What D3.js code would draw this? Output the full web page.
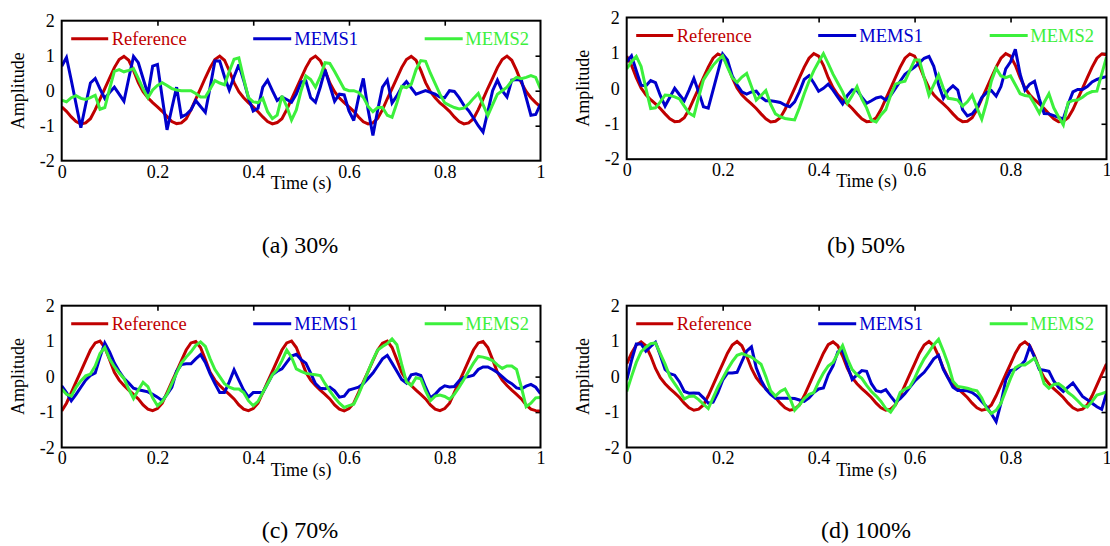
<!DOCTYPE html>
<html><head><meta charset="utf-8">
<script src="https://cdn.jsdelivr.net/npm/d3@7"></script>
<style>html,body{margin:0;padding:0;background:#fff;} svg{display:block;}</style>
</head><body>
<svg id="chart" width="1110" height="546"></svg>
<script>
// ---------------- data ----------------
const timeStep = 0.01;               // samples every 10 ms, 0 .. 1 s
const xTickValues = [0, 0.2, 0.4, 0.6, 0.8, 1];
const yTickValues = [-2, -1, 0, 1, 2];
const seriesNames = ["Reference", "MEMS1", "MEMS2"];
const panelCaptions = ["(a) 30%", "(b) 50%", "(c) 70%", "(d) 100%"];
const xAxisTitle = "Time (s)";
const yAxisTitle = "Amplitude";

// (a) 30%
const refA = [
-0.46,-0.59,-0.75,-0.88,-0.95,-0.92,-0.8,-0.54,-0.24,0.06,0.36,0.66,0.89,0.98,0.87,0.58,0.23,-0.03,-0.2,-0.34,
-0.46,-0.59,-0.74,-0.88,-0.94,-0.92,-0.8,-0.55,-0.24,0.06,0.37,0.66,0.89,0.99,0.87,0.57,0.23,-0.03,-0.2,-0.34,
-0.46,-0.6,-0.75,-0.88,-0.95,-0.91,-0.8,-0.54,-0.24,0.06,0.36,0.66,0.9,0.99,0.86,0.58,0.22,-0.03,-0.21,-0.34,
-0.46,-0.59,-0.75,-0.89,-0.95,-0.92,-0.79,-0.54,-0.23,0.06,0.36,0.66,0.89,0.98,0.87,0.58,0.23,-0.03,-0.2,-0.35,
-0.46,-0.59,-0.75,-0.88,-0.95,-0.92,-0.8,-0.54,-0.24,0.07,0.36,0.66,0.89,0.99,0.87,0.58,0.23,-0.02,-0.2,-0.34,
-0.46];
const mems1A = [
0.7,0.95,0.3,-0.38,-1.06,-0.4,0.22,0.35,0.05,-0.22,
-0.05,0.1,-0.1,-0.3,0.35,0.98,0.8,0.35,-0.1,0.7,
0.75,-0.2,-1.12,-0.5,0.1,-0.75,-0.68,-0.55,-0.28,-0.45,
-0.62,0.1,0.85,0.85,0.4,0.02,0.4,0.75,0.3,-0.2,
-0.58,-0.5,0.1,0.3,0.0,-0.28,-0.18,-0.25,-0.33,-0.1,
0.25,0.28,-0.2,-0.33,0.1,0.6,0.15,-0.3,-0.1,-0.12,
-0.58,-0.85,-0.2,0.35,-0.55,-1.28,-0.55,0.1,0.3,-0.35,
-0.15,0.1,0.26,0.08,-0.1,-0.05,0.0,-0.05,-0.1,-0.18,
-0.2,0.0,-0.02,-0.2,-0.42,-0.57,-0.78,-1.0,-1.18,-0.6,
0.0,0.3,0.0,-0.18,0.3,0.32,0.3,-0.2,-0.7,-0.68,
-0.38];
const mems2A = [
-0.27,-0.32,-0.2,-0.14,-0.22,-0.25,-0.2,-0.13,-0.53,-0.48,
0.05,0.55,0.6,0.54,0.58,0.63,0.35,0.05,-0.2,0.02,
0.15,0.23,0.15,0.06,0.02,0.0,0.0,0.0,-0.08,-0.18,
-0.18,0.05,0.29,0.22,0.17,0.55,0.9,0.94,0.35,-0.2,
-0.32,-0.34,-0.22,-0.6,-0.8,-0.7,-0.15,-0.45,-0.84,-0.55,
0.0,0.42,0.32,0.1,0.4,0.8,0.78,0.55,0.3,0.05,
0.0,0.0,-0.05,-0.19,-0.45,-0.6,-0.48,-0.48,-0.7,-0.76,
-0.35,0.12,0.09,0.18,0.6,0.86,0.84,0.5,0.2,-0.1,
-0.35,-0.42,-0.48,-0.52,-0.5,-0.38,-0.22,-0.08,-0.4,-0.71,
-0.4,-0.1,0.0,0.1,0.28,0.38,0.34,0.38,0.43,0.38,
0.05];

// (b) 50%
const refB = [
0.91,0.65,0.3,0.01,-0.18,-0.32,-0.44,-0.57,-0.72,-0.86,-0.94,-0.93,-0.83,-0.6,-0.3,0.0,0.3,0.6,0.85,0.97,
0.91,0.65,0.3,0.01,-0.18,-0.32,-0.44,-0.57,-0.72,-0.86,-0.95,-0.93,-0.83,-0.6,-0.3,0.0,0.3,0.6,0.85,0.98,
0.91,0.65,0.3,0.02,-0.18,-0.32,-0.44,-0.57,-0.72,-0.86,-0.94,-0.93,-0.83,-0.6,-0.3,0.0,0.3,0.6,0.85,0.97,
0.91,0.64,0.3,0.01,-0.18,-0.32,-0.44,-0.57,-0.72,-0.86,-0.94,-0.93,-0.83,-0.6,-0.3,0.0,0.3,0.6,0.85,0.98,
0.91,0.65,0.3,0.01,-0.18,-0.32,-0.44,-0.57,-0.72,-0.86,-0.94,-0.93,-0.83,-0.6,-0.3,0.0,0.3,0.6,0.85,0.97,
0.95];
const mems1B = [
0.75,0.92,0.5,0.09,0.07,0.22,0.16,-0.2,-0.5,-0.25,
0.0,-0.18,-0.35,-0.05,0.28,-0.1,-0.52,-0.56,-0.05,0.46,
0.97,0.8,0.35,0.1,-0.1,-0.16,-0.1,-0.08,-0.25,-0.35,
-0.35,-0.37,-0.4,-0.47,-0.52,-0.38,-0.1,0.25,0.36,0.15,
-0.08,0.0,0.12,-0.05,-0.25,-0.44,-0.2,-0.04,-0.06,-0.25,
-0.42,-0.35,-0.27,-0.24,-0.33,-0.2,0.0,0.2,0.4,0.5,
0.6,0.72,0.85,0.9,0.62,0.1,-0.28,-0.05,0.07,-0.05,
-0.6,-0.78,-0.72,-0.55,-0.26,-0.12,-0.06,-0.22,0.05,0.55,
0.75,1.1,0.4,-0.05,0.12,0.2,-0.3,-0.71,-0.72,-0.77,
-0.82,-0.86,-0.45,-0.1,-0.03,-0.03,0.05,0.18,0.25,0.3,
0.33];
const mems2B = [
0.55,0.75,0.9,0.62,0.0,-0.57,-0.55,-0.38,-0.19,-0.2,
-0.24,-0.3,-0.5,-0.7,-0.78,-0.25,0.24,0.45,0.65,0.8,
0.92,0.6,0.3,0.17,0.32,0.42,0.05,-0.33,-0.2,-0.06,
-0.45,-0.72,-0.8,-0.85,-0.87,-0.89,-0.55,-0.15,0.2,0.5,
0.75,0.98,0.7,0.4,0.15,-0.1,-0.42,-0.2,0.05,-0.3,
-0.55,-0.9,-0.95,-0.75,-0.6,-0.2,0.12,0.17,0.2,0.5,
0.8,0.8,0.3,-0.19,0.1,0.38,0.0,-0.28,-0.3,-0.33,
-0.5,-0.38,-0.19,-0.55,-0.87,-0.4,0.2,0.57,0.35,0.3,
0.35,0.1,-0.15,-0.2,-0.22,-0.45,-0.7,-0.4,-0.15,-0.55,
-0.8,-1.03,-0.4,-0.34,-0.33,-0.25,-0.15,-0.09,-0.08,0.4,
0.88];

// (c) 70%
const refC = [
-0.97,-0.75,-0.45,-0.15,0.15,0.45,0.75,0.95,1.0,0.82,0.48,0.12,-0.1,-0.25,-0.38,-0.5,-0.63,-0.8,-0.92,-0.96,
-0.9,-0.75,-0.45,-0.15,0.15,0.45,0.75,0.95,0.99,0.82,0.48,0.12,-0.1,-0.25,-0.38,-0.5,-0.63,-0.8,-0.92,-0.96,
-0.9,-0.75,-0.45,-0.15,0.15,0.45,0.75,0.95,1.0,0.82,0.48,0.12,-0.1,-0.25,-0.38,-0.5,-0.63,-0.8,-0.92,-0.97,
-0.9,-0.75,-0.45,-0.15,0.15,0.45,0.75,0.94,1.0,0.82,0.48,0.12,-0.1,-0.25,-0.38,-0.5,-0.63,-0.8,-0.92,-0.96,
-0.9,-0.75,-0.45,-0.15,0.15,0.45,0.75,0.95,0.99,0.82,0.48,0.12,-0.1,-0.25,-0.38,-0.5,-0.63,-0.8,-0.92,-0.96,
-0.97];
const mems1C = [
-0.26,-0.45,-0.68,-0.5,-0.3,-0.1,0.03,0.1,0.55,0.95,
0.7,0.38,0.15,-0.05,-0.18,-0.33,-0.37,-0.4,-0.43,-0.5,
-0.58,-0.68,-0.5,-0.3,0.15,0.34,0.36,0.36,0.5,0.62,
0.4,0.08,-0.2,-0.45,-0.45,-0.15,0.19,-0.1,-0.38,-0.58,
-0.45,-0.45,-0.45,-0.2,0.05,0.15,0.22,0.4,0.58,0.63,
0.48,0.38,0.1,-0.2,-0.33,-0.34,-0.3,-0.4,-0.58,-0.55,
-0.38,-0.34,-0.3,-0.2,-0.05,0.1,0.3,0.5,0.6,0.38,
0.15,-0.08,-0.18,0.05,0.08,0.03,-0.3,-0.6,-0.5,-0.35,
-0.26,-0.29,-0.28,-0.12,-0.02,0.0,0.04,0.2,0.27,0.27,
0.2,0.12,0.0,-0.12,-0.2,-0.32,-0.35,-0.27,-0.22,-0.3,
-0.48];
const mems2C = [
-0.35,-0.5,-0.55,-0.3,-0.12,0.02,0.07,0.3,0.65,0.82,
0.5,0.28,0.1,-0.05,-0.35,-0.62,-0.38,-0.16,-0.28,-0.6,
-0.82,-0.7,-0.5,-0.2,0.1,0.38,0.55,0.7,0.88,0.98,
0.85,0.5,0.2,0.0,-0.2,-0.3,-0.35,-0.35,-0.45,-0.68,
-0.82,-0.7,-0.45,-0.2,0.05,0.2,0.45,0.75,0.55,0.22,
0.15,0.09,0.07,0.05,0.03,-0.2,-0.4,-0.59,-0.75,-0.87,
-0.82,-0.78,-0.5,-0.18,0.15,0.47,0.75,0.85,0.93,1.06,
0.9,0.35,-0.15,-0.25,-0.03,-0.06,-0.4,-0.68,-0.55,-0.52,
-0.56,-0.64,-0.5,-0.3,-0.08,0.15,0.38,0.57,0.55,0.51,
0.45,0.33,0.23,0.3,0.3,0.2,-0.3,-0.85,-0.75,-0.6,
-0.59];

// (d) 100%
const refD = [
0.36,0.66,0.89,0.98,0.87,0.58,0.23,-0.03,-0.2,-0.34,-0.46,-0.59,-0.75,-0.88,-0.95,-0.92,-0.8,-0.54,-0.24,0.06,
0.36,0.66,0.89,0.99,0.87,0.58,0.23,-0.03,-0.2,-0.34,-0.46,-0.59,-0.75,-0.88,-0.95,-0.92,-0.8,-0.54,-0.24,0.06,
0.36,0.66,0.9,0.98,0.87,0.58,0.23,-0.03,-0.2,-0.34,-0.46,-0.59,-0.75,-0.88,-0.95,-0.92,-0.8,-0.54,-0.24,0.06,
0.36,0.66,0.89,0.99,0.87,0.58,0.23,-0.03,-0.2,-0.34,-0.46,-0.59,-0.75,-0.88,-0.95,-0.92,-0.8,-0.54,-0.24,0.06,
0.36,0.66,0.89,0.98,0.87,0.58,0.23,-0.03,-0.2,-0.34,-0.46,-0.59,-0.75,-0.88,-0.95,-0.92,-0.8,-0.54,-0.24,0.06,
0.36];
const mems1D = [
-0.1,0.45,0.92,0.92,0.72,0.85,0.97,0.6,0.2,0.08,
0.04,-0.15,-0.42,-0.47,-0.46,-0.47,-0.6,-0.75,-0.72,-0.45,
-0.1,0.1,0.1,0.12,0.42,0.72,0.84,0.25,-0.1,-0.35,
-0.5,-0.61,-0.61,-0.61,-0.61,-0.62,-0.66,-0.7,-0.6,-0.45,
-0.35,-0.32,0.05,0.3,0.7,0.75,0.3,-0.08,0.05,0.17,
0.15,-0.2,-0.4,-0.43,-0.37,-0.55,-0.72,-0.62,-0.48,-0.3,
-0.13,0.0,0.12,0.3,0.5,0.6,0.2,-0.05,-0.3,-0.39,
-0.39,-0.4,-0.45,-0.55,-0.7,-0.85,-1.05,-1.27,-0.75,-0.1,
0.17,0.2,0.3,0.45,0.85,0.55,0.2,0.18,0.15,-0.12,
-0.3,-0.42,-0.3,-0.18,-0.37,-0.56,-0.65,-0.75,-0.85,-0.92,
-0.47];
const mems2D = [
-0.42,0.0,0.4,0.7,0.83,0.93,0.95,0.65,0.35,0.0,
-0.2,-0.4,-0.63,-0.56,-0.55,-0.65,-0.78,-0.9,-0.6,-0.3,
-0.05,0.2,0.42,0.6,0.65,0.6,0.55,0.45,0.35,0.0,
-0.4,-0.55,-0.42,-0.35,-0.6,-0.95,-0.8,-0.62,-0.5,-0.45,
-0.15,0.1,0.3,0.4,0.65,0.88,0.5,0.2,0.05,-0.05,
-0.25,-0.42,-0.55,-0.7,-0.9,-1.0,-0.8,-0.45,-0.35,-0.29,
-0.05,0.25,0.5,0.7,0.9,1.05,0.72,0.35,-0.13,-0.28,
-0.3,-0.33,-0.37,-0.4,-0.6,-0.9,-1.04,-0.95,-0.75,-0.4,
-0.05,0.25,0.33,0.33,0.42,0.52,0.25,-0.2,-0.33,-0.22,
-0.2,-0.3,-0.45,-0.55,-0.68,-0.82,-0.86,-0.7,-0.52,-0.48,
-0.43];

const panelSeries = [
  [refA, mems1A, mems2A],
  [refB, mems1B, mems2B],
  [refC, mems1C, mems2C],
  [refD, mems1D, mems2D]
];

// ---------------- layout & style ----------------
const layout = [
  {left: 61.7, right: 540.5, top: 20.7, bottom: 160.7, capX: 300, capY: 253},
  {left: 626.7, right: 1106.5, top: 17.5, bottom: 159.2, capX: 866, capY: 253},
  {left: 61.7, right: 540.5, top: 305.7, bottom: 447.5, capX: 300, capY: 538},
  {left: 626.7, right: 1106.5, top: 305.7, bottom: 447.5, capX: 866, capY: 538}
];
const colors = ["#c00000", "#0000cc", "#3cf03c"];
const legendPos = [ // offsets from plot left: line start, line end, text start
  [9.5, 46.5, 50], [191.5, 229.5, 232.5], [363, 401, 403.5]
];
const FONT = "'Liberation Serif','Times New Roman',Times,serif";

const svg = d3.select("#chart");

layout.forEach((L, pi) => {
  const x = d3.scaleLinear().domain([0, 1]).range([L.left, L.right]);
  const y = d3.scaleLinear().domain([-2, 2]).range([L.bottom, L.top]);
  const g = svg.append("g");

  const clipId = "clip" + pi;
  g.append("clipPath").attr("id", clipId).append("rect")
    .attr("x", L.left).attr("y", L.top)
    .attr("width", L.right - L.left).attr("height", L.bottom - L.top);

  const xAx = g.append("g").attr("transform", `translate(0,${L.bottom})`)
    .call(d3.axisBottom(x).tickValues(xTickValues).tickSize(0).tickPadding(4)
      .tickFormat(d => String(d)));
  xAx.select(".domain").remove();
  xAx.selectAll("text").attr("font-family", FONT).attr("font-size", 18)
     .attr("fill", "#000").attr("dy", "0.72em");

  const yAx = g.append("g").attr("transform", `translate(${L.left},0)`)
    .call(d3.axisLeft(y).tickValues(yTickValues).tickSize(0).tickPadding(7)
      .tickFormat(d => String(d)));
  yAx.select(".domain").remove();
  yAx.selectAll("text").attr("font-family", FONT).attr("font-size", 18)
     .attr("fill", "#000").attr("dy", "0.32em");

  const topTicks = g.append("g").attr("transform", `translate(0,${L.top})`)
    .call(d3.axisBottom(x).tickValues(xTickValues.slice(1, -1)).tickSize(5).tickFormat(""));
  topTicks.select(".domain").remove();
  topTicks.selectAll("line").attr("stroke", "#000").attr("stroke-width", 1.6);
  const rightTicks = g.append("g").attr("transform", `translate(${L.right},0)`)
    .call(d3.axisLeft(y).tickValues(yTickValues.slice(1, -1)).tickSize(5).tickFormat(""));
  rightTicks.select(".domain").remove();
  rightTicks.selectAll("line").attr("stroke", "#000").attr("stroke-width", 1.6);

  const line = d3.line().x((d, i) => x(i * timeStep)).y(d => y(d));
  const lines = g.append("g").attr("clip-path", `url(#${clipId})`);
  panelSeries[pi].forEach((vals, si) => {
    lines.append("path").datum(vals).attr("d", line)
      .attr("fill", "none").attr("stroke", colors[si]).attr("stroke-width", 3)
      .attr("stroke-linejoin", "miter").attr("stroke-miterlimit", 3);
  });

  g.append("rect").attr("x", L.left).attr("y", L.top)
    .attr("width", L.right - L.left).attr("height", L.bottom - L.top)
    .attr("fill", "none").attr("stroke", "#000").attr("stroke-width", 2);

  const ly = L.top + 18;
  seriesNames.forEach((name, si) => {
    const p = legendPos[si];
    g.append("line").attr("x1", L.left + p[0]).attr("x2", L.left + p[1])
      .attr("y1", ly).attr("y2", ly).attr("stroke", colors[si]).attr("stroke-width", 3);
    g.append("text").attr("x", L.left + p[2]).attr("y", ly + 6.5)
      .attr("font-family", FONT).attr("font-size", 18.5).attr("fill", colors[si]).text(name);
  });

  g.append("text").attr("x", (L.left + L.right) / 2).attr("y", L.bottom + 28)
    .attr("text-anchor", "middle").attr("font-family", FONT).attr("font-size", 18)
    .text(xAxisTitle);
  g.append("text")
    .attr("transform", `translate(${L.left - 38},${(L.top + L.bottom) / 2}) rotate(-90)`)
    .attr("text-anchor", "middle").attr("font-family", FONT).attr("font-size", 18)
    .text(yAxisTitle);

  g.append("text").attr("x", L.capX).attr("y", L.capY).attr("text-anchor", "middle")
    .attr("font-family", FONT).attr("font-size", 24).text(panelCaptions[pi]);
});
</script>
</body></html>
